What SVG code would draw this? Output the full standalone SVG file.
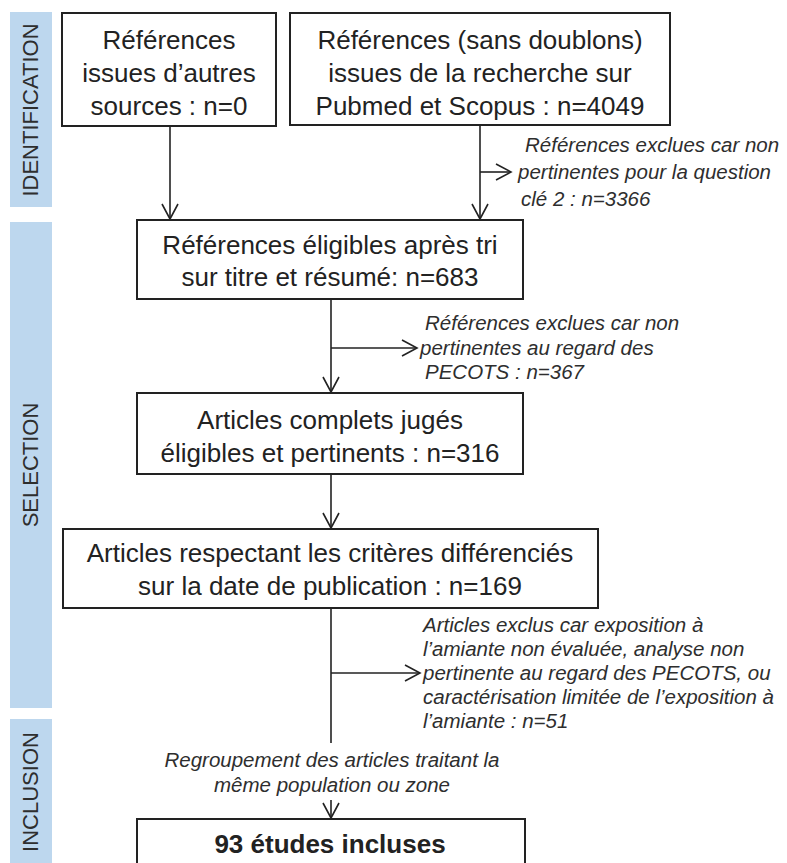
<svg xmlns="http://www.w3.org/2000/svg" width="787" height="863" viewBox="0 0 787 863">
<style>
.bar{fill:#bdd7ee}
.bt{font-family:"Liberation Sans",Arial,sans-serif;font-size:22px;fill:#2e2e2e;text-anchor:middle}
.box{fill:#fff;stroke:#222;stroke-width:2}
.t{font-family:"Liberation Sans",Arial,sans-serif;font-size:26px;fill:#222;text-anchor:middle}
.b{font-weight:bold}
.n{font-family:"Liberation Sans",Arial,sans-serif;font-size:20.5px;font-style:italic;fill:#2e2e2e}
.c{fill:none;stroke:#222;stroke-width:1.6}
</style>
<defs>
<marker id="arr" markerUnits="userSpaceOnUse" markerWidth="20" markerHeight="20" refX="16" refY="9" orient="auto">
<path d="M1,1 L16,9 L1,17" fill="none" stroke="#222" stroke-width="1.6"/>
</marker>
</defs>
<g id="phases">
<rect class="bar" x="10" y="12" width="42" height="195"/>
<text class="bt" transform="translate(38,110) rotate(-90)">IDENTIFICATION</text>
<rect class="bar" x="10" y="222" width="42" height="486"/>
<text class="bt" transform="translate(38,465) rotate(-90)">SELECTION</text>
<rect class="bar" x="10" y="719" width="42" height="150"/>
<text class="bt" transform="translate(38,792) rotate(-90)">INCLUSION</text>
</g>
<g id="connectors">
<path class="c" d="M170,126 V219" marker-end="url(#arr)"/>
<path class="c" d="M480,125 V219" marker-end="url(#arr)"/>
<path class="c" d="M480,172 H511" marker-end="url(#arr)"/>
<path class="c" d="M331,299 V392" marker-end="url(#arr)"/>
<path class="c" d="M331,348 H417" marker-end="url(#arr)"/>
<path class="c" d="M331,474 V528" marker-end="url(#arr)"/>
<path class="c" d="M331,608 V743"/>
<path class="c" d="M331,673 H420" marker-end="url(#arr)"/>
<path class="c" d="M331,800 V818" marker-end="url(#arr)"/>
</g>
<g id="n1">
<rect class="box" x="62" y="13" width="214" height="113"/>
<text class="t" x="169" y="49">Références</text>
<text class="t" x="169" y="82">issues d’autres</text>
<text class="t" x="169" y="115">sources : n=0</text>
</g>
<g id="n2">
<rect class="box" x="290" y="13" width="380" height="112"/>
<text class="t" x="480" y="49">Références (sans doublons)</text>
<text class="t" x="480" y="82">issues de la recherche sur</text>
<text class="t" x="480" y="115">Pubmed et Scopus : n=4049</text>
</g>
<g id="note1">
<text class="n" x="525" y="152">Références exclues car non</text>
<text class="n" x="518" y="179">pertinentes pour la question</text>
<text class="n" x="521" y="206">clé 2 : n=3366</text>
</g>
<g id="n3">
<rect class="box" x="137" y="220" width="386" height="79"/>
<text class="t" x="330" y="254">Références éligibles après tri</text>
<text class="t" x="330" y="286">sur titre et résumé: n=683</text>
</g>
<g id="note2">
<text class="n" x="425" y="330">Références exclues car non</text>
<text class="n" x="420" y="355">pertinentes au regard des</text>
<text class="n" x="425" y="379">PECOTS : n=367</text>
</g>
<g id="n4">
<rect class="box" x="137" y="393" width="386" height="81"/>
<text class="t" x="330" y="429">Articles complets jugés</text>
<text class="t" x="330" y="462">éligibles et pertinents : n=316</text>
</g>
<g id="n5">
<rect class="box" x="63" y="529" width="535" height="79"/>
<text class="t" x="330" y="562">Articles respectant les critères différenciés</text>
<text class="t" x="330" y="595">sur la date de publication : n=169</text>
</g>
<g id="note3">
<text class="n" x="423" y="632">Articles exclus car exposition à</text>
<text class="n" x="423" y="656">l’amiante non évaluée, analyse non</text>
<text class="n" x="423" y="680">pertinente au regard des PECOTS, ou</text>
<text class="n" x="423" y="704">caractérisation limitée de l’exposition à</text>
<text class="n" x="423" y="728">l’amiante : n=51</text>
</g>
<g id="note4">
<text class="n" x="332" y="767" text-anchor="middle">Regroupement des articles traitant la</text>
<text class="n" x="332" y="792" text-anchor="middle">même population ou zone</text>
</g>
<g id="n6">
<rect class="box" x="137" y="819" width="388" height="60"/>
<text class="t b" x="330" y="853">93 études incluses</text>
</g>
</svg>
